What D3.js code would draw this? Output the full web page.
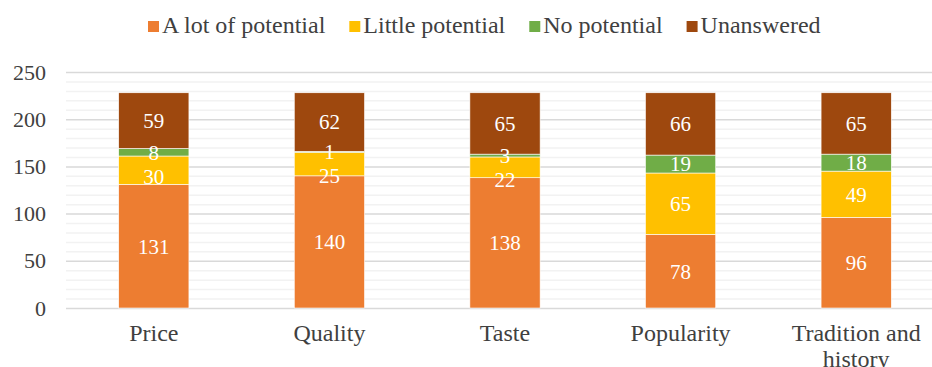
<!DOCTYPE html>
<html>
<head>
<meta charset="utf-8">
<script src="https://cdn.jsdelivr.net/npm/d3@7"></script>
<style>
  html, body { margin: 0; padding: 0; background: #fff; overflow: hidden; }
  svg { display: block; }
  svg text { font-family: "Liberation Serif", "Tinos", "DejaVu Serif", "Noto Serif", serif; }
</style>
</head>
<body>
<svg id="chart" width="932" height="367"></svg>
<script>
const categories = ["Price", "Quality", "Taste", "Popularity", "Tradition and history"];
const seriesNames = ["A lot of potential", "Little potential", "No potential", "Unanswered"];
const aLotOfPotential = [131, 140, 138, 78, 96];
const littlePotential = [30, 25, 22, 65, 49];
const noPotential = [8, 1, 3, 19, 18];
const unanswered = [59, 62, 65, 66, 65];
const yTicks = [0, 50, 100, 150, 200, 250];
const colors = ["#ED7D31", "#FFC000", "#70AD47", "#9E480E"];

(function () {
const seriesValues = [aLotOfPotential, littlePotential, noPotential, unanswered];
const table = categories.map((c, i) => {
  const row = { category: c };
  seriesNames.forEach((s, j) => row[s] = seriesValues[j][i]);
  return row;
});

const svg = d3.select("#chart");
const plotLeft = 66, plotRight = 944, plotTop = 72, plotBottom = 308;

const x = d3.scaleBand().domain(categories).range([plotLeft, plotRight])
  .paddingInner(0.6).paddingOuter(0.3);
const y = d3.scaleLinear().domain([0, 250]).range([plotBottom, plotTop]);

// minor gridlines
const minor = d3.range(10, 251, 10).filter(v => v % 50 !== 0);
svg.append("g").selectAll("line").data(minor).join("line")
  .attr("x1", plotLeft).attr("x2", plotRight)
  .attr("y1", d => y(d) + 0.5).attr("y2", d => y(d) + 0.5)
  .attr("stroke", "#F2F2F2").attr("stroke-width", 1.5);
// major gridlines
svg.append("g").selectAll("line").data(yTicks).join("line")
  .attr("x1", plotLeft).attr("x2", plotRight)
  .attr("y1", d => y(d) + 0.5).attr("y2", d => y(d) + 0.5)
  .attr("stroke", "#D9D9D9").attr("stroke-width", 1.5);

// y axis labels
const yAxis = d3.axisLeft(y).tickValues(yTicks).tickSize(0).tickPadding(20);
const yg = svg.append("g").attr("transform", `translate(${plotLeft},0)`).call(yAxis);
yg.attr("font-family", null);
yg.select(".domain").remove();
yg.selectAll("text").attr("font-size", 22).attr("fill", "#404040");

// stacks
const stack = d3.stack().keys(seriesNames)(table);
const groups = svg.append("g").selectAll("g").data(stack).join("g")
  .attr("fill", (d, i) => colors[i]);
groups.selectAll("rect").data(d => d).join("rect")
  .attr("x", d => x(d.data.category))
  .attr("width", x.bandwidth())
  .attr("y", d => y(d[1]))
  .attr("height", d => y(d[0]) - y(d[1]))
  .attr("stroke", "#fff").attr("stroke-width", 0.6);

// value labels with simple collision avoidance (top to bottom, push lower down)
const minGap = 24;
categories.forEach((c, ci) => {
  const labels = stack.map((s, si) => ({
    v: s[ci][1] - s[ci][0],
    cy: (y(s[ci][0]) + y(s[ci][1])) / 2
  })).reverse(); // top first
  for (let k = 1; k < labels.length; k++) {
    if (labels[k].cy - labels[k - 1].cy < minGap) labels[k].cy = labels[k - 1].cy + minGap;
  }
  svg.append("g").selectAll("text").data(labels).join("text")
    .attr("x", x(c) + x.bandwidth() / 2)
    .attr("y", d => d.cy)
    .attr("dy", "0.35em")
    .attr("text-anchor", "middle")
    .attr("font-size", 21)
    .attr("fill", "#fff")
    .text(d => d.v);
});

// x axis labels with wrapping
const xl = svg.append("g");
categories.forEach(c => {
  const cx = x(c) + x.bandwidth() / 2;
  const t = xl.append("text")
    .attr("x", cx)
    .attr("y", 341)
    .attr("text-anchor", "middle")
    .attr("font-size", 24)
    .attr("fill", "#404040");
  const words = c.split(" ");
  let line = [];
  let tspan = t.append("tspan").attr("x", cx).attr("dy", 0);
  words.forEach(w => {
    line.push(w);
    tspan.text(line.join(" "));
    if (tspan.node().getComputedTextLength() > x.step() && line.length > 1) {
      line.pop();
      tspan.text(line.join(" "));
      line = [w];
      tspan = t.append("tspan").attr("x", cx).attr("dy", 26).text(w);
    }
  });
});

// legend
const legend = svg.append("g");
let lx = 148;
seriesNames.forEach((s, i) => {
  legend.append("rect").attr("x", lx).attr("y", 21).attr("width", 11).attr("height", 11)
    .attr("fill", colors[i]);
  const t = legend.append("text").attr("x", lx + 14).attr("y", 33)
    .attr("font-size", 24).attr("fill", "#404040").text(s);
  lx += 14 + t.node().getComputedTextLength() + 24;
});
})();
</script>
</body>
</html>
